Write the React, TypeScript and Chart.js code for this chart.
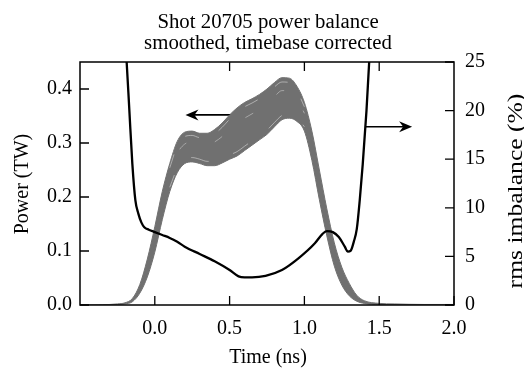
import React, { useEffect, useRef } from "react";
import { Chart, registerables } from "chart.js";

Chart.register(...registerables);

// ---- data ----
const titleLines = ["Shot 20705 power balance", "smoothed, timebase corrected"];
const xTitle = "Time (ns)";
const leftTitle = "Power (TW)";
const rightTitle = "rms imbalance (%)";

const timeNs = [-0.5, -0.4, -0.35, -0.3, -0.25, -0.2, -0.15, -0.1, -0.05, 0, 0.05, 0.1, 0.15, 0.2, 0.25, 0.3, 0.35, 0.4, 0.45, 0.5, 0.55, 0.6, 0.65, 0.7, 0.75, 0.8, 0.85, 0.9, 0.95, 1.0, 1.05, 1.1, 1.15, 1.2, 1.25, 1.3, 1.35, 1.4, 1.5, 1.6, 1.8, 2.0];
const beamPowerUpper = [0, 0, 0.0005, 0.001, 0.002, 0.004, 0.012, 0.038, 0.085, 0.145, 0.21, 0.262, 0.303, 0.32, 0.322, 0.318, 0.318, 0.325, 0.337, 0.352, 0.365, 0.375, 0.382, 0.39, 0.4, 0.412, 0.421, 0.42, 0.405, 0.375, 0.322, 0.25, 0.178, 0.115, 0.07, 0.04, 0.018, 0.008, 0.003, 0.002, 0.001, 0.001];
const beamPowerLower = [0, 0, 0, 0.0005, 0.001, 0.002, 0.006, 0.022, 0.052, 0.098, 0.158, 0.21, 0.245, 0.262, 0.265, 0.262, 0.258, 0.258, 0.263, 0.27, 0.276, 0.286, 0.296, 0.306, 0.316, 0.33, 0.343, 0.346, 0.34, 0.322, 0.268, 0.195, 0.128, 0.072, 0.037, 0.017, 0.007, 0.003, 0.001, 0.0005, 0, 0];

// a few individual beam traces that show as light streaks inside the band
const streakTime = [0.1, 0.15, 0.2, 0.25, 0.3, 0.35, 0.4, 0.45, 0.5, 0.55, 0.6, 0.65, 0.7, 0.75, 0.8, 0.85, 0.9, 0.95, 1.0];
const beamStreakHigh = [0.254, 0.295, 0.312, 0.314, 0.31, 0.31, 0.317, 0.329, 0.344, 0.357, 0.367, 0.374, 0.382, 0.392, 0.404, 0.413, 0.412, 0.397, 0.367];
const beamStreakMid = [0.238, 0.28, 0.298, 0.302, 0.298, 0.296, 0.302, 0.312, 0.325, 0.336, 0.346, 0.354, 0.362, 0.373, 0.386, 0.397, 0.397, 0.383, 0.355];
const beamStreakLow = [0.218, 0.253, 0.27, 0.273, 0.27, 0.266, 0.266, 0.271, 0.278, 0.284, 0.294, 0.304, 0.314, 0.324, 0.338, 0.351, 0.354, 0.348, 0.33];

const rmsTime = [-0.22, -0.19, -0.17, -0.15, -0.13, -0.11, -0.09, -0.07, -0.04, 0.0, 0.05, 0.1, 0.15, 0.2, 0.3, 0.4, 0.5, 0.56, 0.6, 0.65, 0.74, 0.85, 0.96, 1.07, 1.12, 1.15, 1.19, 1.23, 1.27, 1.29, 1.31, 1.33, 1.35, 1.37, 1.39, 1.415, 1.433, 1.45];
const rmsImbalance = [32, 25.5, 20, 14.5, 10.8, 9.4, 8.5, 8.0, 7.75, 7.5, 7.2, 6.9, 6.5, 6.0, 5.25, 4.5, 3.6, 2.95, 2.85, 2.85, 3.0, 3.6, 4.8, 6.35, 7.3, 7.6, 7.5, 7.0, 6.0, 5.5, 5.6, 6.5, 7.8, 10.8, 14.5, 20, 25, 29];

const xTicks = [0, 0.5, 1.0, 1.5, 2.0];
const xTopTicks = [0.5, 1.0, 1.5];
const powerTicks = [0, 0.1, 0.2, 0.3, 0.4];
const rmsTicks = [0, 5, 10, 15, 20, 25];

// arrows: [startX, tipX, y] in data units
const powerArrow = [0.52, 0.205, 0.352];
const rmsArrow = [1.407, 1.72, 18.34];

const FONT = "'Liberation Serif', 'Times New Roman', serif";
const GRAY = "rgb(112,112,112)";
const STREAK = "rgba(215,215,215,0.75)";

function drawArrow(ctx: CanvasRenderingContext2D, x0: number, x1: number, y: number) {
  const dir = x1 < x0 ? -1 : 1;
  ctx.save();
  ctx.strokeStyle = "#000";
  ctx.fillStyle = "#000";
  ctx.lineWidth = 1.6;
  ctx.beginPath();
  ctx.moveTo(x0, y);
  ctx.lineTo(x1 - dir * 8, y);
  ctx.stroke();
  ctx.beginPath();
  ctx.moveTo(x1, y);
  ctx.lineTo(x1 - dir * 13, y - 5.5);
  ctx.lineTo(x1 - dir * 9, y);
  ctx.lineTo(x1 - dir * 13, y + 5.5);
  ctx.closePath();
  ctx.fill();
  ctx.restore();
}

const decorPlugin = {
  id: "decor",
  beforeDatasetsDraw(chart: any) {
    const ctx = chart.ctx as CanvasRenderingContext2D;
    const x = chart.scales.x, y = chart.scales.y, y2 = chart.scales.y2;
    drawArrow(ctx, x.getPixelForValue(powerArrow[0]), x.getPixelForValue(powerArrow[1]), y.getPixelForValue(powerArrow[2]));
    drawArrow(ctx, x.getPixelForValue(rmsArrow[0]), x.getPixelForValue(rmsArrow[1]), y2.getPixelForValue(rmsArrow[2]));
  },
  afterDraw(chart: any) {
    const ctx = chart.ctx as CanvasRenderingContext2D;
    const a = chart.chartArea;
    const x = chart.scales.x, y = chart.scales.y, y2 = chart.scales.y2;
    ctx.save();
    ctx.strokeStyle = "#000";
    ctx.lineWidth = 1.5;
    ctx.strokeRect(a.left, a.top, a.right - a.left, a.bottom - a.top);
    ctx.lineWidth = 1.3;
    ctx.beginPath();
    const tl = 9;
    xTicks.forEach((v) => {
      const px = x.getPixelForValue(v);
      ctx.moveTo(px, a.bottom);
      ctx.lineTo(px, a.bottom - tl);
    });
    xTopTicks.forEach((v) => {
      const px = x.getPixelForValue(v);
      ctx.moveTo(px, a.top);
      ctx.lineTo(px, a.top + tl);
    });
    powerTicks.forEach((v) => {
      const py = y.getPixelForValue(v);
      ctx.moveTo(a.left, py);
      ctx.lineTo(a.left + tl, py);
    });
    rmsTicks.forEach((v) => {
      const py = y2.getPixelForValue(v);
      ctx.moveTo(a.right, py);
      ctx.lineTo(a.right - tl, py);
    });
    ctx.stroke();

    ctx.fillStyle = "#000";
    ctx.font = `20px ${FONT}`;
    ctx.textAlign = "center";
    ctx.textBaseline = "alphabetic";
    const cx = (a.left + a.right) / 2 + 1;
    ctx.save();
    ctx.translate(cx, 0);
    ctx.scale(1.04, 1);
    ctx.fillText(titleLines[0], 0, 28);
    ctx.fillText(titleLines[1], 0, 49);
    ctx.restore();
    ctx.fillText(xTitle, cx, 363);

    ctx.save();
    ctx.translate(28, 184);
    ctx.rotate(-Math.PI / 2);
    ctx.fillText(leftTitle, 0, 0);
    ctx.restore();

    ctx.save();
    ctx.translate(522, 191);
    ctx.rotate(-Math.PI / 2);
    ctx.scale(1.28, 1);
    ctx.fillText(rightTitle, 0, 0);
    ctx.restore();
    ctx.restore();
  },
};

function beamDataset(label: string, xs: number[], ys: number[], extra: any) {
  return {
    label,
    data: xs.map((t, i) => ({ x: t, y: ys[i] })),
    yAxisID: "y",
    pointRadius: 0,
    cubicInterpolationMode: "monotone",
    fill: false,
    ...extra,
  };
}

export default function App() {
  const ref = useRef<HTMLCanvasElement | null>(null);
  useEffect(() => {
    if (!ref.current) return;
    const tickFont = { family: FONT, size: 20 };
    const chart = new Chart(ref.current, {
      type: "line",
      data: {
        datasets: [
          {
            label: "rms imbalance",
            data: rmsTime.map((t, i) => ({ x: t, y: rmsImbalance[i] })),
            yAxisID: "y2",
            borderColor: "#000",
            borderWidth: 2.3,
            pointRadius: 0,
            cubicInterpolationMode: "monotone",
            fill: false,
          },
          beamDataset("beam streak high", streakTime, beamStreakHigh, { borderColor: STREAK, borderWidth: 0.8, borderDash: [14, 22] }),
          beamDataset("beam streak mid", streakTime, beamStreakMid, { borderColor: STREAK, borderWidth: 0.7, borderDash: [9, 30], borderDashOffset: 10 }),
          beamDataset("beam streak low", streakTime, beamStreakLow, { borderColor: STREAK, borderWidth: 0.8, borderDash: [18, 26], borderDashOffset: 5 }),
          beamDataset("beam power (max)", timeNs, beamPowerUpper, { borderColor: GRAY, borderWidth: 1 }),
          beamDataset("beam power (min)", timeNs, beamPowerLower, { borderColor: GRAY, backgroundColor: GRAY, borderWidth: 1, fill: "-1" }),
        ],
      },
      options: {
        animation: false,
        responsive: false,
        maintainAspectRatio: false,
        layout: { padding: { top: 62, left: 0, right: 0, bottom: 0 } },
        plugins: { legend: { display: false }, title: { display: false }, tooltip: { enabled: false } },
        scales: {
          x: {
            type: "linear",
            min: -0.5,
            max: 2.0,
            grid: { display: false, drawTicks: false },
            border: { display: false },
            afterBuildTicks: (s: any) => { s.ticks = xTicks.map((v) => ({ value: v })); },
            afterFit: (s: any) => { s.height = 65; },
            ticks: { font: tickFont, color: "#000", padding: 12, maxRotation: 0, autoSkip: false, callback: (v: any) => Number(v).toFixed(1) },
          },
          y: {
            type: "linear",
            position: "left",
            min: 0,
            max: 0.45,
            grid: { display: false, drawTicks: false },
            border: { display: false },
            afterBuildTicks: (s: any) => { s.ticks = powerTicks.map((v) => ({ value: v })); },
            afterFit: (s: any) => { s.width = 80; },
            ticks: { font: tickFont, color: "#000", padding: 8, callback: (v: any) => Number(v).toFixed(1) },
          },
          y2: {
            type: "linear",
            position: "right",
            min: 0,
            max: 25,
            grid: { display: false, drawTicks: false },
            border: { display: false },
            afterBuildTicks: (s: any) => { s.ticks = rmsTicks.map((v) => ({ value: v })); },
            afterFit: (s: any) => { s.width = 70; },
            ticks: { font: tickFont, color: "#000", padding: 11, callback: (v: any) => String(v) },
          },
        },
      },
      plugins: [decorPlugin],
    } as any);
    return () => chart.destroy();
  }, []);
  return (
    <div style={{ position: "fixed", left: 0, top: 0, width: 524, height: 370, background: "#fff" }}>
      <canvas ref={ref} width={524} height={370} style={{ display: "block", width: 524, height: 370 }} />
    </div>
  );
}
